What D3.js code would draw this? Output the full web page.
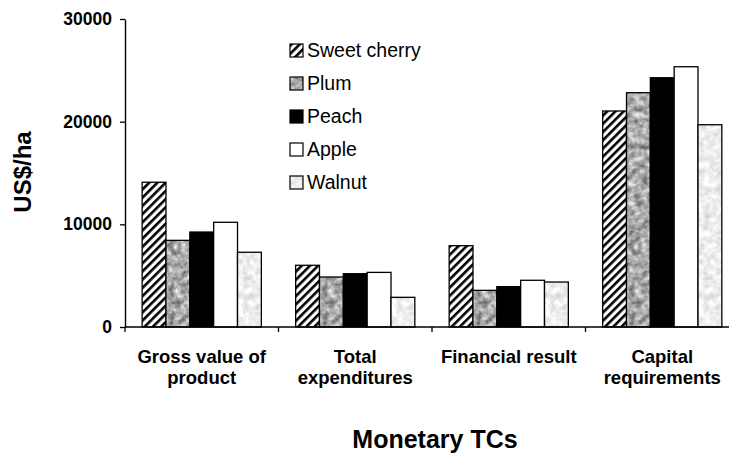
<!DOCTYPE html>
<html>
<head>
<meta charset="utf-8">
<script src="https://cdn.jsdelivr.net/npm/d3@7"></script>
<style>
  body { margin: 0; background: #fff; }
  svg { display: block; font-family: "Liberation Sans", Arial, sans-serif; }
</style>
</head>
<body>
<div id="chart"></div>
<script>
// Data
const categories = [
  ["Gross value of", "product"],
  ["Total", "expenditures"],
  ["Financial result"],
  ["Capital", "requirements"]
];
const crops = ["Sweet cherry", "Plum", "Peach", "Apple", "Walnut"];
const sweetCherry = [14100, 6010, 7920, 21040];
const plum = [8440, 4870, 3570, 22820];
const peach = [9250, 5190, 3930, 24280];
const apple = [10200, 5320, 4550, 25350];
const walnut = [7280, 2890, 4380, 19700];
const yTicks = [0, 10000, 20000, 30000];

const seriesValues = [sweetCherry, plum, peach, apple, walnut];

const width = 729;
const height = 455;
const margin = { top: 19, right: -10, bottom: 128, left: 125 };
const fontFamily = "Liberation Sans, Arial, sans-serif";

const svg = d3
  .select("#chart")
  .append("svg")
  .attr("width", width)
  .attr("height", height);

// Fills: hatch, mottled grey, black, white, light mottled
const defs = svg.append("defs");

defs
  .append("pattern")
  .attr("id", "hatch")
  .attr("patternUnits", "userSpaceOnUse")
  .attr("width", 5.8)
  .attr("height", 5.8)
  .attr("patternTransform", "rotate(45)")
  .call((p) => {
    p.append("rect").attr("width", 5.8).attr("height", 5.8).attr("fill", "#fff");
    p.append("rect").attr("width", 2.6).attr("height", 5.8).attr("fill", "#000");
  });

// one big tile so the noise never repeats inside the chart
function noiseFill(id, a, b, freq) {
  defs
    .append("filter")
    .attr("id", id + "-f")
    .attr("x", 0)
    .attr("y", 0)
    .attr("width", 1)
    .attr("height", 1)
    .attr("color-interpolation-filters", "sRGB")
    .call((f) => {
      f.append("feTurbulence")
        .attr("type", "fractalNoise")
        .attr("baseFrequency", freq)
        .attr("numOctaves", 3)
        .attr("seed", 4);
      f.append("feColorMatrix")
        .attr("type", "matrix")
        .attr("values", `${a} 0 0 0 ${b}  ${a} 0 0 0 ${b}  ${a} 0 0 0 ${b}  0 0 0 0 1`);
    });
  defs
    .append("pattern")
    .attr("id", id)
    .attr("patternUnits", "userSpaceOnUse")
    .attr("width", width)
    .attr("height", height)
    .append("rect")
    .attr("width", width)
    .attr("height", height)
    .attr("filter", `url(#${id}-f)`);
}
noiseFill("mottled", 0.85, 0.24, 0.16);
noiseFill("light", 0.3, 0.78, 0.16);

const fills = ["url(#hatch)", "url(#mottled)", "#000", "#fff", "url(#light)"];

const x = d3
  .scaleBand()
  .domain(d3.range(categories.length))
  .range([margin.left, width - margin.right])
  .paddingInner(0)
  .paddingOuter(0);

const xInner = d3
  .scaleBand()
  .domain(crops)
  .range([0, x.bandwidth()])
  .paddingInner(0)
  .paddingOuter(0.72);

const y = d3
  .scaleLinear()
  .domain([0, 30000])
  .range([height - margin.bottom, margin.top]);

// Bars
const groups = svg
  .append("g")
  .selectAll("g")
  .data(categories.map((c, i) => i))
  .join("g")
  .attr("transform", (i) => `translate(${x(i)},0)`);

groups
  .selectAll("rect")
  .data((i) => crops.map((name, k) => ({ name, k, value: seriesValues[k][i] })))
  .join("rect")
  .attr("x", (d) => xInner(d.name))
  .attr("y", (d) => y(d.value))
  .attr("width", xInner.bandwidth())
  .attr("height", (d) => y(0) - y(d.value))
  .attr("fill", (d) => fills[d.k])
  .attr("stroke", "#000")
  .attr("stroke-width", 1.3);

// Y axis
svg
  .append("g")
  .attr("transform", `translate(${margin.left},0)`)
  .call(d3.axisLeft(y).tickValues(yTicks).tickFormat(d3.format("d")).tickSize(5).tickPadding(8).tickSizeOuter(0))
  .call((g) => g.select(".domain").attr("stroke-width", 1.4))
  .call((g) => g.selectAll(".tick line").attr("stroke-width", 1.3))
  .call((g) =>
    g
      .selectAll(".tick text")
      .attr("font-size", 17.5)
      .attr("font-weight", "bold")
      .attr("fill", "#000")
      .attr("font-family", fontFamily)
  );

// X axis: baseline plus boundary ticks
const xAxis = svg.append("g").attr("transform", `translate(0,${y(0)})`);
xAxis
  .append("line")
  .attr("x1", margin.left)
  .attr("x2", width - margin.right)
  .attr("stroke", "#000")
  .attr("stroke-width", 1.4);
xAxis
  .selectAll(".bt")
  .data(d3.range(categories.length + 1))
  .join("line")
  .attr("x1", (i) => margin.left + i * x.bandwidth())
  .attr("x2", (i) => margin.left + i * x.bandwidth())
  .attr("y1", 0)
  .attr("y2", 5)
  .attr("stroke", "#000")
  .attr("stroke-width", 1.3);

xAxis
  .selectAll(".cat")
  .data(categories)
  .join("text")
  .attr("x", (d, i) => x(i) + x.bandwidth() / 2)
  .attr("y", 36)
  .attr("text-anchor", "middle")
  .attr("font-size", 18.5)
  .attr("font-weight", "bold")
  .selectAll("tspan")
  .data((d) => d)
  .join("tspan")
  .attr("x", function () {
    return this.parentNode.getAttribute("x");
  })
  .attr("dy", (d, j) => (j === 0 ? 0 : 21))
  .text((d) => d);

// Axis titles
svg
  .append("text")
  .attr("transform", `translate(31,172) rotate(-90)`)
  .attr("text-anchor", "middle")
  .attr("font-size", 24)
  .attr("font-weight", "bold")
  .text("US$/ha");

svg
  .append("text")
  .attr("x", 435)
  .attr("y", 448)
  .attr("text-anchor", "middle")
  .attr("font-size", 25)
  .attr("font-weight", "bold")
  .text("Monetary TCs");

// Legend
const legend = svg
  .append("g")
  .attr("transform", "translate(290,44)")
  .selectAll("g")
  .data(crops)
  .join("g")
  .attr("transform", (d, i) => `translate(0,${i * 33})`);

legend
  .append("rect")
  .attr("width", 13)
  .attr("height", 13)
  .attr("fill", (d, i) => fills[i])
  .attr("stroke", "#000")
  .attr("stroke-width", 1.2);

legend
  .append("text")
  .attr("x", 17)
  .attr("y", 13)
  .attr("font-size", 19.5)
  .text((d) => d);
</script>
</body>
</html>
